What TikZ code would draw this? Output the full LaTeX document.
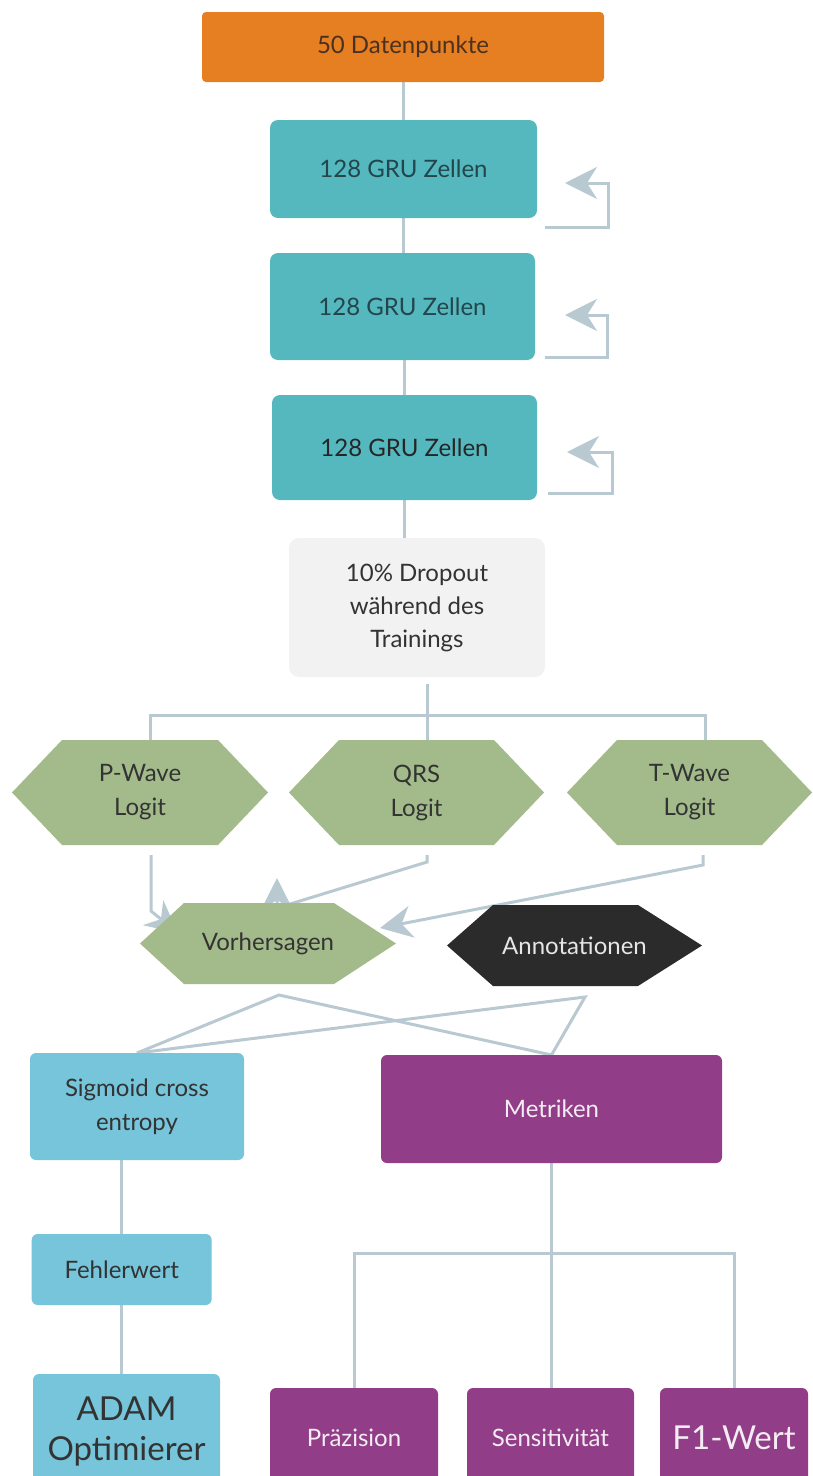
\documentclass[tikz,border=0pt]{standalone}
\usepackage{fontspec}
\setmainfont{Lato}
\usetikzlibrary{arrows.meta,calc}

\definecolor{cOrange}{HTML}{E67E22}
\definecolor{cTeal}{HTML}{55B8BF}
\definecolor{cGrey}{HTML}{F2F2F2}
\definecolor{cGreen}{HTML}{A3BB8A}
\definecolor{cDark}{HTML}{2B2B2B}
\definecolor{cBlue}{HTML}{76C5DB}
\definecolor{cPurple}{HTML}{913D87}
\definecolor{cLink}{HTML}{B9C9D1}
\definecolor{cText}{HTML}{333333}
\definecolor{cTealText}{HTML}{22464B}
\definecolor{cOrangeText}{HTML}{4A3120}
\definecolor{cLight}{HTML}{F4ECF3}
\definecolor{cAnnText}{HTML}{E6E6E6}

\pgfdeclarelayer{links}
\pgfdeclarelayer{shapes}
\pgfsetlayers{links,shapes,main}

% hexagon body behind a (text only) node: node name, left slant, right slant, colour
\newcommand\hexfill[4]{%
  \fill[#4] (#1.west) -- ([xshift=#2]#1.north west) -- ([xshift=-#3]#1.north east)
    -- (#1.east) -- ([xshift=-#3]#1.south east) -- ([xshift=#2]#1.south west) -- cycle;}

\begin{document}
\begin{tikzpicture}[x=1pt,y=-1pt,
  every node/.style={font=\fontsize{24}{34}\selectfont, text=cText,
    inner sep=0pt, outer sep=0pt, align=center},
  box/.style={rectangle, rounded corners=#1},
  box/.default=6pt,
  big/.style={font=\fontsize{33}{40}\selectfont},
  conn/.style={draw=cLink, line width=3pt},
  tip/.style={-{Stealth[length=32pt,width=32pt,inset=10pt]}}
]
\useasboundingbox (0,0) rectangle (812,1476);
\clip (0,0) rectangle (812,1476);

% ---- input and recurrent layers
\node[box=4pt, fill=cOrange, minimum width=402, minimum height=70, text=cOrangeText]
  (dp) at (403,47) {50 Datenpunkte};
\node[box=8pt, fill=cTeal, minimum width=267, minimum height=98, text=cTealText] (g1) at (403.5,169) {128 GRU Zellen};
\node[box=8pt, fill=cTeal, minimum width=265, minimum height=107, text=cTealText] (g2) at (402.5,306.5) {128 GRU Zellen};
\node[box=8pt, fill=cTeal, minimum width=265, minimum height=105, text=black!85] (g3) at (404.5,447.5) {128 GRU Zellen};
\node[box=10pt, fill=cGrey, minimum width=256, minimum height=139,
  font=\fontsize{24}{33}\selectfont] (drop) at (417,607.5)
  {10\% Dropout\\während des\\Trainings};

% ---- logits
\node[minimum width=256, minimum height=105] (pw) at (140,792.5) {P-Wave\\Logit};
\node[minimum width=255, minimum height=105] (qrs) at (416.5,792.5) {QRS\\Logit};
\node[minimum width=245, minimum height=105] (tw) at (689.5,792.5) {T-Wave\\Logit};
\node[minimum width=256, minimum height=81] (vh) at (268,943.5) {Vorhersagen};
\node[minimum width=255, minimum height=81, text=cAnnText] (an) at (574.5,945.5) {Annotationen};

% ---- loss branch
\node[box, fill=cBlue, minimum width=214, minimum height=107] (sg) at (137,1106.5) {Sigmoid cross\\entropy};
\node[box, fill=cBlue, minimum width=180, minimum height=71] (fw) at (121.7,1269.5) {Fehlerwert};
\node[box, fill=cBlue, minimum width=187, minimum height=115, big] (ad) at (126.5,1431.5) {ADAM\\Optimierer};

% ---- metric branch
\node[box, fill=cPurple, minimum width=341, minimum height=108, text=cLight] (mt) at (551.5,1109) {Metriken};
\node[box, fill=cPurple, minimum width=168, minimum height=100, text=cLight] (pr) at (354,1438) {Präzision};
\node[box, fill=cPurple, minimum width=167, minimum height=100, text=cLight] (se) at (550.5,1438) {Sensitivität};
\node[box, fill=cPurple, minimum width=148, minimum height=100, text=cLight, big] (f1) at (734,1438) {F1-Wert};

\begin{pgfonlayer}{shapes}
  \hexfill{pw}{50pt}{50pt}{cGreen}
  \hexfill{qrs}{50pt}{50pt}{cGreen}
  \hexfill{tw}{50pt}{50pt}{cGreen}
  \hexfill{vh}{44pt}{62pt}{cGreen}
  \hexfill{an}{46pt}{64pt}{cDark}
\end{pgfonlayer}

\begin{pgfonlayer}{links}
  % straight chain
  \draw[conn] (dp.south) -- (dp.south |- g1.north);
  \draw[conn] (g1.south) -- (g1.south |- g2.north);
  \draw[conn] ([xshift=2pt]g2.south) -- ([xshift=2pt]g2.south |- g3.north);
  \draw[conn] (g3.south) -- (g3.south |- drop.north);

  % recurrent self loops
  \draw[conn,tip] ($(g1.south east)+(8,9)$) -- ++(63,0) |- ($(g1.east)+(28,14)$);
  \draw[conn,tip] ($(g2.south east)+(10,-3)$) -- ++(62,0) |- ($(g2.east)+(30,8.5)$);
  \draw[conn,tip] ($(g3.south east)+(11,-7)$) -- ++(64,0) |- ($(g3.east)+(30,4.5)$);

  % dropout fans out to the three logits
  \coordinate (split) at ($(drop.south)+(10,38)$);
  \draw[conn] ($(drop.south)+(10,7)$) -- (split);
  \draw[conn] ([xshift=10pt]pw.north) |- (split) -| ([xshift=15.5pt]tw.north);
  \draw[conn] (split) -- (split |- qrs.north);

  % logits into the prediction
  \draw[conn,tip] ($(pw.south)+(11,10)$) -- ($(pw.south)+(11,66)$) -- ($(vh.west)+(38,-10.5)$);
  \draw[conn,tip] ($(qrs.south)+(10.5,10)$) -- ++(0,7) -- ($(vh.north)+(9,5)$) -- ($(vh.north)+(9,-25)$);
  \draw[conn,tip] ($(tw.south)+(13.5,10)$) -- ++(0,10) -- ($(vh.east)+(-16,-15.5)$);

  % prediction and annotation feed loss and metrics
  \coordinate (vo) at ($(vh.south)+(11,11)$);
  \coordinate (ao) at ($(an.south)+(10.5,11)$);
  \draw[conn] (sg.north) -- (vo) -- (mt.north);
  \draw[conn] (sg.north) -- (ao) -- (mt.north);

  % loss chain
  \draw[conn] (fw.north |- sg.south) -- (fw.north);
  \draw[conn] (fw.south) -- (fw.south |- ad.north);

  % metric tree
  \coordinate (mtj) at ($(mt.south)+(0,90)$);
  \draw[conn] (mt.south) -- (mtj);
  \draw[conn] (pr.north) |- (mtj) -| (f1.north);
  \draw[conn] (mtj) -- (mtj |- se.north);
\end{pgfonlayer}
\end{tikzpicture}
\end{document}
